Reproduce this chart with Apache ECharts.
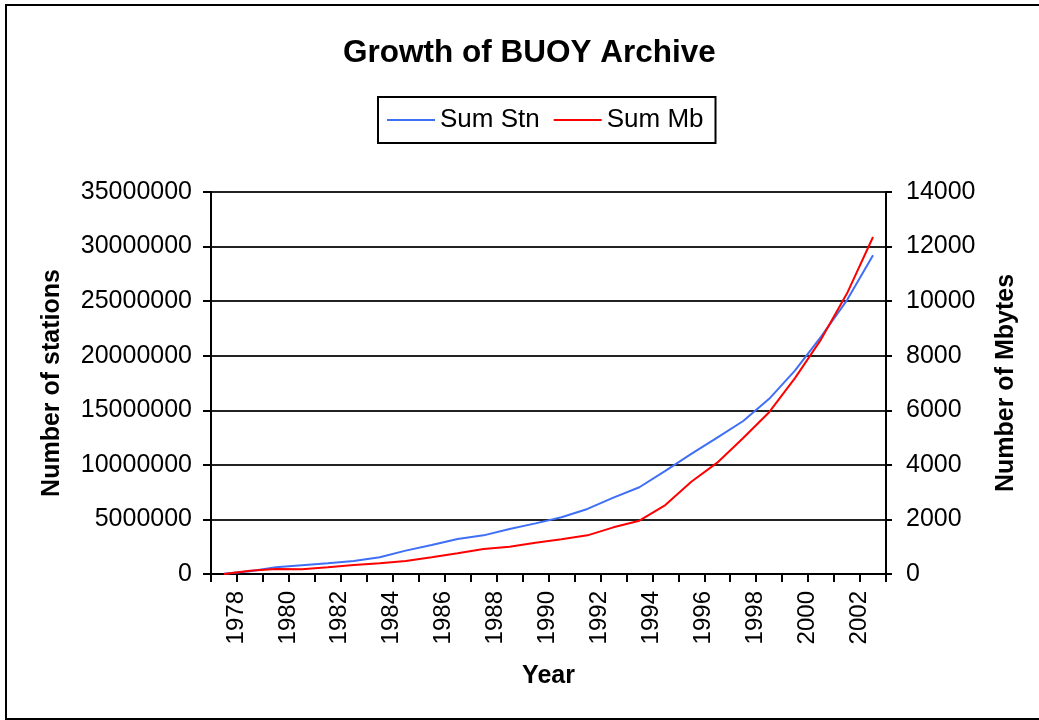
<!DOCTYPE html>
<html>
<head>
<meta charset="utf-8">
<script src="https://cdn.jsdelivr.net/npm/echarts@6/dist/echarts.min.js"></script>
<style>
html,body{margin:0;padding:0;background:#fff;}
#chart{width:1039px;height:720px;}
</style>
</head>
<body>
<div id="chart"></div>
<script>
const years = ['1978','1979','1980','1981','1982','1983','1984','1985','1986','1987','1988','1989','1990','1991','1992','1993','1994','1995','1996','1997','1998','1999','2000','2001','2002','2003'];
const sumStn = [20000, 250000, 610000, 800000, 980000, 1190000, 1530000, 2140000, 2660000, 3200000, 3540000, 4120000, 4640000, 5200000, 5960000, 7000000, 7950000, 9450000, 11000000, 12500000, 14020000, 16050000, 18650000, 21750000, 25100000, 29200000];
const sumMb = [0, 120, 183, 178, 244, 330, 391, 476, 611, 757, 916, 1000, 1147, 1270, 1417, 1710, 1954, 2528, 3383, 4080, 4985, 5930, 7190, 8600, 10286, 12350];
const leftTicks = {min: 0, max: 35000000, interval: 5000000};
const rightTicks = {min: 0, max: 14000, interval: 2000};

const FONT = '"Liberation Sans", Arial, sans-serif';
const chart = echarts.init(document.getElementById('chart'), null, {renderer: 'canvas'});
chart.setOption({
  backgroundColor: '#fff',
  animation: false,
  textStyle: {fontFamily: FONT, color: '#000'},
  title: {
    text: 'Growth of BUOY Archive',
    left: 338,
    top: 32,
    textStyle: {fontFamily: FONT, fontSize: 31.5, fontWeight: 'bold', color: '#000'}
  },
  legend: {
    left: 378,
    top: 97,
    padding: [10, 12, 10, 9],
    borderColor: '#000',
    borderWidth: 2,
    itemWidth: 48,
    itemHeight: 2,
    itemGap: 14,
    textStyle: {fontFamily: FONT, fontSize: 26, color: '#000'},
    data: [{name: 'Sum Stn', icon: 'rect'}, {name: 'Sum Mb', icon: 'rect'}]
  },
  grid: {left: 211, right: 153, top: 192, bottom: 146, containLabel: false},
  xAxis: {
    type: 'category',
    data: years,
    boundaryGap: true,
    name: 'Year',
    nameLocation: 'middle',
    nameGap: 90,
    nameTextStyle: {fontFamily: FONT, fontSize: 25, fontWeight: 'bold', color: '#000'},
    axisLine: {lineStyle: {color: '#000', width: 2}},
    axisTick: {show: true, interval: 0, length: 8, lineStyle: {color: '#000', width: 2}},
    axisLabel: {interval: 1, rotate: 90, margin: 17, fontSize: 24, color: '#000', fontFamily: FONT, verticalAlign: 'top'},
    splitLine: {show: false}
  },
  yAxis: [
    {
      type: 'value',
      position: 'left',
      min: leftTicks.min, max: leftTicks.max, interval: leftTicks.interval,
      name: 'Number of stations',
      nameLocation: 'middle',
      nameRotate: 90,
      nameGap: 146,
      nameTextStyle: {fontFamily: FONT, fontSize: 25, fontWeight: 'bold', color: '#000'},
      axisLine: {show: true, lineStyle: {color: '#000', width: 2}},
      axisTick: {show: true, length: 8, lineStyle: {color: '#000', width: 2}},
      axisLabel: {margin: 19, fontSize: 25, color: '#000', fontFamily: FONT, formatter: v => String(v)},
      splitLine: {show: true, lineStyle: {color: '#222', width: 2}}
    },
    {
      type: 'value',
      position: 'right',
      min: rightTicks.min, max: rightTicks.max, interval: rightTicks.interval,
      name: 'Number of Mbytes',
      nameLocation: 'middle',
      nameRotate: 90,
      nameGap: 108,
      nameTextStyle: {fontFamily: FONT, fontSize: 25, fontWeight: 'bold', color: '#000'},
      axisLine: {show: true, lineStyle: {color: '#000', width: 2}},
      axisTick: {show: true, length: 6, lineStyle: {color: '#000', width: 2}},
      axisLabel: {margin: 20, fontSize: 25, color: '#000', fontFamily: FONT, formatter: v => String(v)},
      splitLine: {show: false}
    }
  ],
  series: [
    {
      name: 'Sum Stn',
      type: 'line',
      yAxisIndex: 0,
      data: sumStn,
      symbol: 'none',
      lineStyle: {color: '#3f6ff5', width: 2},
      itemStyle: {color: '#3f6ff5'}
    },
    {
      name: 'Sum Mb',
      type: 'line',
      yAxisIndex: 1,
      data: sumMb,
      symbol: 'none',
      lineStyle: {color: '#ff0000', width: 2},
      itemStyle: {color: '#ff0000'}
    }
  ],
  graphic: [
    {
      type: 'rect',
      silent: true,
      shape: {x: 6, y: 5, width: 1045, height: 714},
      style: {fill: 'none', stroke: '#000', lineWidth: 2}
    }
  ]
});
</script>
</body>
</html>
